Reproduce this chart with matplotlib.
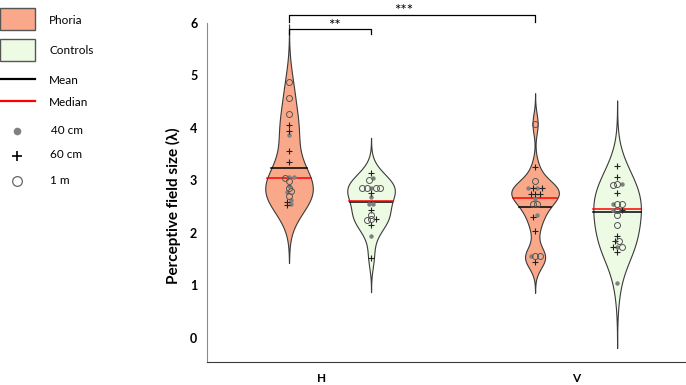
import numpy as np
import matplotlib
matplotlib.use("Agg")
import matplotlib.pyplot as plt
from matplotlib.patches import Rectangle

plt.rcParams["font.family"] = ["Lato", "DejaVu Sans"]

# groups and violins (Phoria H, Controls H, Phoria V, Controls V)
group_labels = ["H", "V"]
violin_groups = ["Phoria", "Controls", "Phoria", "Controls"]

# values per viewing distance
phoria_h_40cm = [3.86, 3.06, 3.06, 2.90, 2.78, 2.62, 2.55]
phoria_h_60cm = [4.05, 3.95, 3.57, 3.36, 2.58, 2.53]
phoria_h_1m = [4.87, 4.57, 4.27, 3.05, 2.98, 2.85, 2.80, 2.70]

controls_h_40cm = [3.04, 2.85, 2.68, 2.55, 2.55, 1.94]
controls_h_60cm = [3.15, 2.77, 2.43, 2.26, 2.15, 1.53]
controls_h_1m = [3.01, 2.85, 2.85, 2.85, 2.85, 2.34, 2.26, 2.24]

phoria_v_40cm = [2.85, 2.85, 2.64, 2.34, 1.56]
phoria_v_60cm = [3.25, 2.85, 2.85, 2.74, 2.74, 2.74, 2.30, 2.04, 1.44]
phoria_v_1m = [4.08, 2.98, 2.55, 2.55, 1.56, 1.56]

controls_v_40cm = [2.93, 2.56, 2.44, 1.74, 1.05]
controls_v_60cm = [3.28, 3.06, 2.77, 2.44, 1.95, 1.84, 1.74, 1.63]
controls_v_1m = [2.93, 2.91, 2.56, 2.56, 2.44, 2.34, 2.15, 1.84, 1.74]

means = [3.23, 2.59, 2.50, 2.40]
medians = [3.04, 2.61, 2.66, 2.45]

data = [
    (phoria_h_40cm, phoria_h_60cm, phoria_h_1m),
    (controls_h_40cm, controls_h_60cm, controls_h_1m),
    (phoria_v_40cm, phoria_v_60cm, phoria_v_1m),
    (controls_v_40cm, controls_v_60cm, controls_v_1m),
]

positions = [0, 1, 3, 4]
group_pos = [0.4, 3.5]
colors = {"Phoria": "#F9A98A", "Controls": "#EDFAE4"}
half_width = 0.29


def ksdensity(vals, n=300):
    # gaussian kernel, robust normal bandwidth, support +-3h (like matlab)
    vals = np.asarray(vals)
    sig = np.median(np.abs(vals - np.median(vals))) / 0.6745
    h = sig * (4 / (3 * len(vals))) ** 0.2
    y = np.linspace(vals.min() - 3 * h, vals.max() + 3 * h, n)
    d = np.exp(-0.5 * ((y[:, None] - vals[None, :]) / h) ** 2).sum(1)
    return y, d / d.max()


def spread(vals, step=0.055, tol=0.045):
    # simple side-by-side placement of close values
    vals = np.asarray(vals)
    offs = np.zeros(len(vals))
    order = np.argsort(vals)
    i = 0
    while i < len(order):
        j = i
        while j + 1 < len(order) and vals[order[j + 1]] - vals[order[i]] < tol:
            j += 1
        k = j - i + 1
        offs[order[i:j + 1]] = (np.arange(k) - (k - 1) / 2) * step
        i = j + 1
    return offs


fig = plt.figure(figsize=(6.86, 3.85), dpi=100)
ax = fig.add_axes([207 / 686, 1 - 362 / 385, 479 / 686, 339 / 385])

for i, (d40, d60, d1m) in enumerate(data):
    x0 = positions[i]
    allv = np.array(d40 + d60 + d1m)
    kinds = ["40"] * len(d40) + ["60"] * len(d60) + ["1m"] * len(d1m)
    y, dens = ksdensity(allv)
    w = dens * half_width
    ax.fill_betweenx(y, x0 - w, x0 + w, facecolor=colors[violin_groups[i]],
                     edgecolor="#3a3a3a", linewidth=0.8, zorder=2)
    for val, c, z in [(means[i], "black", 3), (medians[i], "red", 4)]:
        wv = np.interp(val, y, w)
        ax.plot([x0 - wv, x0 + wv], [val, val], color=c, lw=1.1, zorder=z)

    offs = spread(allv)
    for val, off, kd in zip(allv, offs, kinds):
        if kd == "40":
            ax.plot(x0 + off, val, "o", ms=3.2, color="#808080", mec="none", zorder=5)
        elif kd == "60":
            ax.plot(x0 + off, val, "+", ms=5, color="#222222", mew=0.8, zorder=5)
        else:
            ax.plot(x0 + off, val, "o", ms=4.3, mfc="none", mec="#555555", mew=0.7, zorder=5)

ax.set_xlim(-1.0, 4.84)
ax.set_ylim(-0.46, 6.0)
ax.set_yticks(range(0, 7))
ax.set_yticklabels([str(t) for t in range(0, 7)], fontweight="bold", fontsize=9)
ax.set_xticks(group_pos)
ax.set_xticklabels(group_labels, fontweight="bold", fontsize=8.5)
ax.tick_params(axis="y", length=0, pad=7)
ax.tick_params(axis="x", length=0, pad=8)
ax.spines["top"].set_visible(False)
ax.spines["right"].set_visible(False)
ax.spines["left"].set_color("#8c8c8c")
ax.spines["bottom"].set_color("#3a3a3a")
ax.set_ylabel("Perceptive field size (λ)", fontweight="bold", fontsize=11)
ax.yaxis.set_label_coords(-0.055, 0.46)

# significance brackets
def bracket(x1, x2, yb, ytick, txt, tx, ty):
    ax.plot([x1, x1, x2, x2], [ytick, yb, yb, ytick], color="black", lw=0.9,
            clip_on=False, zorder=6)
    ax.text(tx, ty, txt, ha="center", va="center", fontsize=11, clip_on=False)

bracket(0, 3, 6.15, 6.02, "***", 1.4, 6.22)
bracket(0, 1, 5.88, 5.79, "**", 0.55, 5.95)

# legend drawn in pixel coordinates on the left
lg = fig.add_axes([0, 0, 1, 1])
lg.set_xlim(0, 686)
lg.set_ylim(385, 0)
lg.axis("off")
lg.patch.set_alpha(0)
lg.add_patch(Rectangle((0, 8), 35, 22, facecolor=colors["Phoria"], edgecolor="#555555", lw=1))
lg.add_patch(Rectangle((0, 39), 35, 22, facecolor=colors["Controls"], edgecolor="#555555", lw=1))
lg.plot([0, 35], [79, 79], color="black", lw=1.6)
lg.plot([0, 35], [101, 101], color="red", lw=1.6)
lg.plot(17, 131, "o", ms=5.5, color="#808080", mec="none")
lg.plot(17, 156, "+", ms=7, color="black", mew=1.2)
lg.plot(17, 181, "o", ms=7, mfc="none", mec="#666666", mew=0.9)
for txt, tx, ty in [("Phoria", 49, 20), ("Controls", 49, 51), ("Mean", 49, 80),
                    ("Median", 49, 102), ("40 cm", 51, 131), ("60 cm", 50, 155),
                    ("1 m", 50, 180)]:
    lg.text(tx, ty, txt, ha="left", va="center", fontsize=8.5)

fig.savefig("out.png", dpi=100)
